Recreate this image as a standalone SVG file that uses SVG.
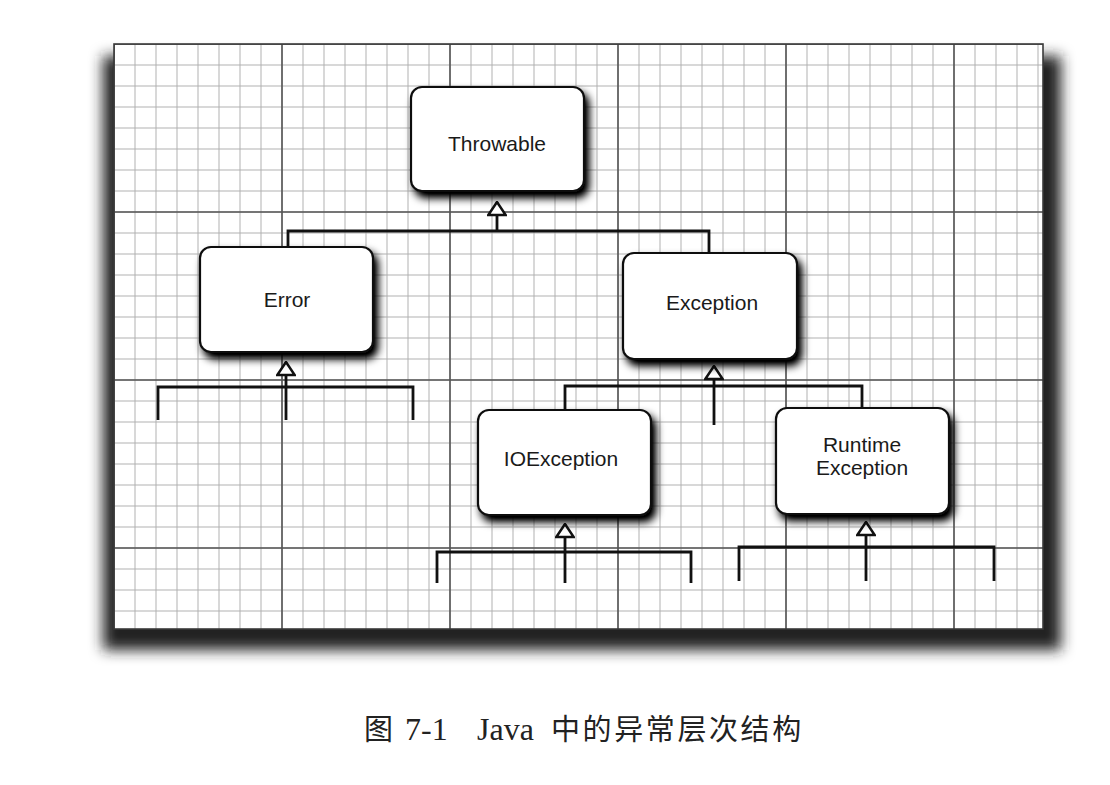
<svg xmlns="http://www.w3.org/2000/svg" width="1110" height="785" viewBox="0 0 1110 785">
  <defs>
    <style>
      .node rect { fill: #ffffff; stroke: #111; stroke-width: 2.2; filter: url(#nodeShadow); }
      .node text { font-family: "Liberation Sans", Arial, sans-serif; font-size: 21px; fill: #1a1a1a; text-anchor: middle; }
      .wire { fill: none; stroke: #111; stroke-width: 2.8; stroke-linejoin: miter; }
      .caption { font-size: 29px; fill: #222; }
      .latin { font-family: "Liberation Serif", "Times New Roman", serif; font-size: 32px; }
      .cjk { font-family: "Noto Sans CJK SC", sans-serif; letter-spacing: 2.6px; }
    </style>
    <!-- thin grid, one line every 21px -->
    <pattern id="minorGrid" x="103.5" y="33.5" width="21" height="21" patternUnits="userSpaceOnUse">
      <path d="M10.5,0V21M0,10.5H21" stroke="#b0b0b0" stroke-width="1" fill="none"/>
    </pattern>
    <!-- heavier grid, one line every 8 cells -->
    <pattern id="majorGrid" x="30" y="-40" width="168" height="168" patternUnits="userSpaceOnUse">
      <path d="M84,0V168M0,84H168" stroke="#555" stroke-width="1.6" fill="none"/>
    </pattern>
    <filter id="paperShadow" x="-10%" y="-10%" width="120%" height="120%">
      <feGaussianBlur stdDeviation="7"/>
    </filter>
    <filter id="nodeShadow" x="-20%" y="-20%" width="140%" height="150%">
      <feGaussianBlur in="SourceAlpha" stdDeviation="4" result="b"/>
      <feOffset in="b" dx="4" dy="6" result="o"/>
      <feComponentTransfer in="o" result="s">
        <feFuncA type="linear" slope="1.15"/>
      </feComponentTransfer>
      <feMerge>
        <feMergeNode in="s"/>
        <feMergeNode in="SourceGraphic"/>
      </feMerge>
    </filter>
    <!-- hollow inheritance triangle -->
    <marker id="hollow" viewBox="0 0 16 20" refX="14.5" refY="10" markerWidth="16" markerHeight="20" markerUnits="userSpaceOnUse" orient="auto">
      <path d="M1.5,1.3 L14.5,10 L1.5,18.7 Z" fill="#fff" stroke="#111" stroke-width="2.5" stroke-linejoin="miter"/>
    </marker>
  </defs>

  <rect width="1110" height="785" fill="#ffffff"/>

  <!-- grid paper with its shadow -->
  <g id="paper">
    <rect x="103" y="56" width="958" height="594" fill="#222" filter="url(#paperShadow)"/>
    <rect x="114" y="44" width="929" height="585" fill="#ffffff"/>
    <rect x="114" y="44" width="929" height="585" fill="url(#minorGrid)"/>
    <rect x="114" y="44" width="929" height="585" fill="url(#majorGrid)"/>
    <rect x="114" y="44" width="929" height="585" fill="none" stroke="#3a3a3a" stroke-width="1.6"/>
  </g>

  <!-- connectors -->
  <g id="connectors">
    <path class="wire" d="M288,247V231H709V253"/>
    <path class="wire" d="M497,231V202" marker-end="url(#hollow)"/>

    <path class="wire" d="M158,420V387H413V420"/>
    <path class="wire" d="M286,420V362" marker-end="url(#hollow)"/>

    <path class="wire" d="M565,410V386H862V408"/>
    <path class="wire" d="M714,425V366" marker-end="url(#hollow)"/>

    <path class="wire" d="M437,583V552H691V583"/>
    <path class="wire" d="M565,583V524" marker-end="url(#hollow)"/>

    <path class="wire" d="M739,581V547H994V581"/>
    <path class="wire" d="M866,581V522" marker-end="url(#hollow)"/>
  </g>

  <g id="throwable" class="node">
    <rect x="411" y="87" width="173" height="104" rx="11"/>
    <text x="497" y="151">Throwable</text>
  </g>

  <g id="error" class="node">
    <rect x="200" y="247" width="173" height="105" rx="11"/>
    <text x="287" y="307">Error</text>
  </g>

  <g id="exception" class="node">
    <rect x="623" y="253" width="174" height="106" rx="11"/>
    <text x="712" y="310">Exception</text>
  </g>

  <g id="ioexception" class="node">
    <rect x="478" y="410" width="173" height="105" rx="11"/>
    <text x="561" y="466">IOException</text>
  </g>

  <g id="runtime-exception" class="node">
    <rect x="776" y="408" width="173" height="106" rx="11"/>
    <text x="862" y="452">Runtime</text>
    <text x="862" y="475">Exception</text>
  </g>

  <!-- figure caption -->
  <g id="caption" class="caption">
    <text class="cjk" x="364" y="740">图</text>
    <text class="latin" x="405" y="740">7-1</text>
    <text class="latin" x="477" y="740">Java</text>
    <text class="cjk" x="551" y="740">中的异常层次结构</text>
  </g>
</svg>
